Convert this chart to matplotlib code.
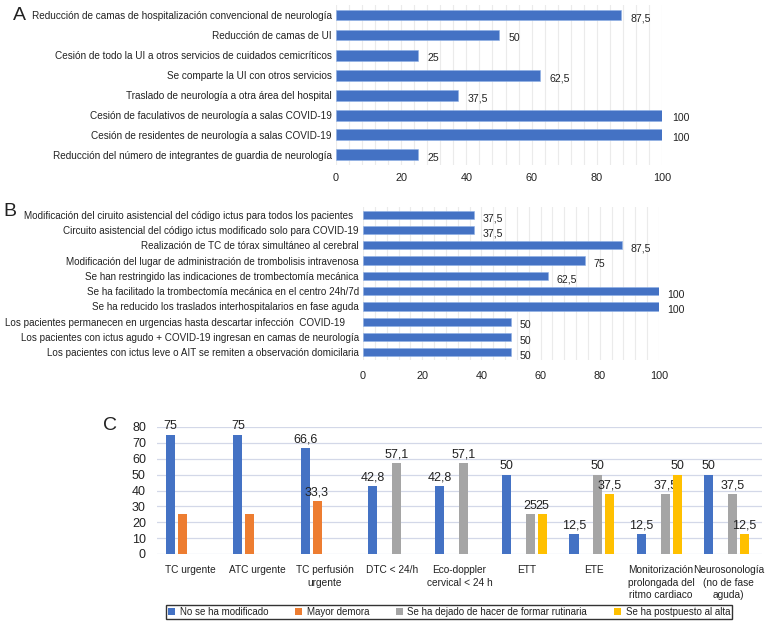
import matplotlib
matplotlib.use("Agg")
import matplotlib.pyplot as plt
import numpy as np

plt.rcParams['font.family'] = ['Liberation Sans', 'DejaVu Sans']

# ---------- Panel A data ----------
a_labels = [
    "Reducción de camas de hospitalización convencional de neurología",
    "Reducción de camas de UI",
    "Cesión de todo la UI a otros servicios de cuidados cemicríticos",
    "Se comparte la UI con otros servicios",
    "Traslado de neurología a otra área del hospital",
    "Cesión de faculativos de neurología a salas COVID-19",
    "Cesión de residentes de neurología a salas COVID-19",
    "Reducción del número de integrantes de guardia de neurología",
]
a_values = [87.5, 50, 25, 62.5, 37.5, 100, 100, 25]

# ---------- Panel B data ----------
b_labels = [
    "Modificación del ciruito asistencial del código ictus para todos los pacientes  ",
    "Circuito asistencial del código ictus modificado solo para COVID-19",
    "Realización de TC de tórax simultáneo al cerebral",
    "Modificación del lugar de administración de trombolisis intravenosa",
    "Se han restringido las indicaciones de trombectomía mecánica",
    "Se ha facilitado la trombectomía mecánica en el centro 24h/7d",
    "Se ha reducido los traslados interhospitalarios en fase aguda",
    "Los pacientes permanecen en urgencias hasta descartar infección  COVID-19     ",
    "Los pacientes con ictus agudo + COVID-19 ingresan en camas de neurología",
    "Los pacientes con ictus leve o AIT se remiten a observación domicilaria",
]
b_values = [37.5, 37.5, 87.5, 75, 62.5, 100, 100, 50, 50, 50]

# ---------- Panel C data ----------
c_categories = [
    "TC urgente", "ATC urgente", "TC perfusión\nurgente", "DTC < 24/h",
    "Eco-doppler\ncervical < 24 h", "ETT", "ETE",
    "Monitorización\nprolongada del\nritmo cardiaco",
    "Neurosonología\n(no de fase\naguda)",
]
c_series = [
    "No se ha modificado", "Mayor demora",
    "Se ha dejado de hacer de formar rutinaria", "Se ha postpuesto al alta",
]
c_no_modificado = [75, 75, 66.6, 42.8, 42.8, 50, 12.5, 12.5, 50]
c_mayor_demora = [25, 25, 33.3, 0, 0, 0, 0, 0, 0]
c_dejado = [0, 0, 0, 57.1, 57.1, 25, 50, 37.5, 37.5]
c_postpuesto = [0, 0, 0, 0, 0, 25, 37.5, 50, 12.5]
# which labels are shown in the original (orange 25s are unlabeled)
c_show_demora = [False, False, True, False, False, False, False, False, False]

BLUE = "#4472C4"
ORANGE = "#ED7D31"
GRAY = "#A5A5A5"
YELLOW = "#FFC000"
TXT = "#222222"


def fmt(v):
    return f"{v:g}".replace(".", ",")


W, H = 768, 624
fig = plt.figure(figsize=(W / 100, H / 100), dpi=100)


def fx(px):
    return px / W


def fy(py):
    return 1 - py / H


def hbar_panel(ax, labels, values, height, fs_lab, fs_val, lab_off_x, lab_off_y, xpad):
    n = len(labels)
    y = np.arange(n)
    ax.barh(y, values, height=height, color=BLUE, edgecolor="#8fb0e6", linewidth=0.4, zorder=3)
    ax.set_ylim(n - 0.5, -0.5)
    ax.set_xlim(0, 100)
    ax.set_yticks(y)
    ax.set_yticklabels(labels, fontsize=fs_lab, color=TXT)
    ax.set_xticks([0, 20, 40, 60, 80, 100])
    ax.set_xticks(np.arange(0, 101, 4), minor=True)
    ax.tick_params(axis="x", which="both", length=0, labelsize=7.8, colors=TXT, pad=xpad)
    ax.tick_params(axis="y", length=0, pad=3)
    ax.grid(axis="x", which="both", color="#ebebeb", linewidth=0.8, zorder=0)
    for s in ax.spines.values():
        s.set_visible(False)
    for yi, v in zip(y, values):
        ax.annotate(fmt(v), (v, yi), xytext=(lab_off_x, lab_off_y), textcoords="offset points",
                    ha="left", va="center", fontsize=fs_val, color=TXT)


# Panel A
axA = fig.add_axes([fx(336), fy(165), fx(662 - 336), (165 - 5) / H])
hbar_panel(axA, a_labels, a_values, 0.55, 7.2, 7.6, 7, -2.5, 6)
fig.text(fx(13), fy(16), "A", fontsize=14, color=TXT, va="center", ha="left")

# Panel B
axB = fig.add_axes([fx(363), fy(360), fx(659 - 363), (360 - 207) / H])
hbar_panel(axB, b_labels, b_values, 0.53, 7.1, 7.6, 6, -2.5, 8)
fig.text(fx(3), fy(211), "B", fontsize=14, color=TXT, va="center", ha="left")

# Panel C
axC = fig.add_axes([fx(157), fy(554), fx(762 - 157), (554 - 427) / H])
x = np.arange(len(c_categories))
slot = 0.178
bw = 0.135
series_vals = [c_no_modificado, c_mayor_demora, c_dejado, c_postpuesto]
colors = [BLUE, ORANGE, GRAY, YELLOW]
for k, (vals, col, name) in enumerate(zip(series_vals, colors, c_series)):
    pos = x + (k - 1.5) * slot - 0.03
    axC.bar(pos, vals, width=bw, color=col, label=name, zorder=3)
    for i, (p, v) in enumerate(zip(pos, vals)):
        if v == 0:
            continue
        if k == 1 and not c_show_demora[i]:
            continue
        axC.annotate(fmt(v), (p, v), xytext=(0, 2), textcoords="offset points",
                     ha="center", va="bottom", fontsize=9, color=TXT)
axC.set_xlim(-0.5, len(c_categories) - 0.5)
axC.set_ylim(0, 80)
axC.set_yticks(np.arange(0, 81, 10))
axC.set_xticks(x)
axC.set_xticklabels(c_categories, fontsize=7.3, color=TXT, linespacing=1.3, va="top")
axC.tick_params(axis="both", length=0, colors=TXT)
axC.tick_params(axis="y", labelsize=9, pad=8)
axC.tick_params(axis="x", pad=8)
axC.grid(axis="y", color="#d3d8e8", linewidth=0.9, zorder=0)
for s in axC.spines.values():
    s.set_visible(False)
fig.text(fx(103), fy(425), "C", fontsize=14, color=TXT, va="center", ha="left")

handles, labs = axC.get_legend_handles_labels()
leg = fig.legend(handles, labs, loc="center", bbox_to_anchor=(fx(449), fy(612)), ncol=4,
                 fontsize=7, frameon=True, fancybox=False, edgecolor="black",
                 handlelength=0.7, handleheight=0.7, handletextpad=0.5, columnspacing=2.75,
                 borderpad=0.2, borderaxespad=0)
leg.get_frame().set_linewidth(1.0)
for t in leg.get_texts():
    t.set_color(TXT)

fig.savefig("out.png", dpi=100)
